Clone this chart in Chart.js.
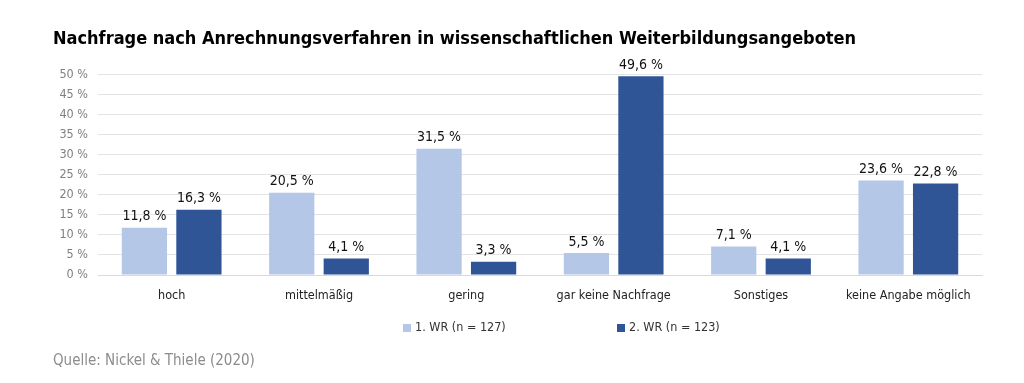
<!DOCTYPE html>
<html lang="de">
<head>
  <meta charset="UTF-8">
  <title>Nachfrage nach Anrechnungsverfahren</title>
  <script src="https://cdn.jsdelivr.net/npm/chart.js"></script>
  <style>
    html, body { margin: 0; padding: 0; background: #fff; }
    .wrap { width: 1024px; height: 383px; position: relative; }
  </style>
</head>
<body>
  <div class="wrap"><canvas id="barChart"></canvas></div>

  <script>
    const categories = ['hoch', 'mittelmäßig', 'gering', 'gar keine Nachfrage', 'Sonstiges', 'keine Angabe möglich'];
    const wr1Values = [11.8, 20.5, 31.5, 5.5, 7.1, 23.6];
    const wr2Values = [16.3, 4.1, 3.3, 49.6, 4.1, 22.8];
    const seriesNames = ['1. WR (n = 127)', '2. WR (n = 123)'];
    const yTicks = [0, 5, 10, 15, 20, 25, 30, 35, 40, 45, 50];

    const fontFamily = "'Liberation Sans Narrow', 'DejaVu Sans Condensed', 'Roboto Condensed', sans-serif";
    const fmt = v => v.toFixed(1).replace('.', ',') + ' %';

    // draws the value above each bar
    const valueLabels = {
      id: 'valueLabels',
      afterDatasetsDraw(chart) {
        const ctx = chart.ctx;
        ctx.save();
        ctx.font = '14px ' + fontFamily;
        ctx.fillStyle = '#111';
        ctx.textAlign = 'center';
        ctx.textBaseline = 'bottom';
        chart.data.datasets.forEach((ds, i) => {
          chart.getDatasetMeta(i).data.forEach((bar, j) => {
            ctx.fillText(fmt(ds.data[j]), bar.x, bar.y - 4);
          });
        });
        ctx.restore();
      }
    };

    // legend with wide spacing between the two items, under the x labels
    const wideLegend = {
      id: 'wideLegend',
      afterDraw(chart) {
        const ctx = chart.ctx;
        const y = chart.chartArea.bottom + 53;
        const starts = [403, 617];
        ctx.save();
        ctx.font = '12.5px ' + fontFamily;
        ctx.textBaseline = 'middle';
        ctx.textAlign = 'left';
        chart.data.datasets.forEach((ds, i) => {
          ctx.fillStyle = ds.backgroundColor;
          ctx.fillRect(starts[i], y - 4, 8, 8);
          ctx.fillStyle = '#333';
          ctx.fillText(ds.label, starts[i] + 12, y);
        });
        ctx.restore();
      }
    };

    new Chart(document.getElementById('barChart'), {
      type: 'bar',
      data: {
        labels: categories,
        datasets: [
          { label: seriesNames[0], data: wr1Values, backgroundColor: '#b4c7e7' },
          { label: seriesNames[1], data: wr2Values, backgroundColor: '#2f5597' }
        ]
      },
      options: {
        responsive: true,
        maintainAspectRatio: false,
        animation: false,
        datasets: { bar: { categoryPercentage: 0.74, barPercentage: 0.83 } },
        layout: { padding: { left: 53, right: 42, top: 29, bottom: 13 } },
        plugins: {
          title: {
            display: true,
            text: 'Nachfrage nach Anrechnungsverfahren in wissenschaftlichen Weiterbildungsangeboten',
            align: 'start',
            color: '#000',
            font: { family: fontFamily, size: 18, weight: 'bold' },
            padding: { top: 0, bottom: 24 }
          },
          subtitle: {
            display: true,
            position: 'bottom',
            text: 'Quelle: Nickel & Thiele (2020)',
            align: 'start',
            color: '#8c8c8c',
            font: { family: fontFamily, size: 15 },
            padding: { top: 44, bottom: 0 }
          },
          legend: { display: false },
          tooltip: { enabled: false }
        },
        scales: {
          x: {
            grid: { display: false },
            border: { color: '#d9d9d9' },
            ticks: { color: '#222', font: { family: fontFamily, size: 12.5 }, padding: 5 }
          },
          y: {
            min: 0,
            max: 50,
            afterBuildTicks: axis => { axis.ticks = yTicks.map(v => ({ value: v })); },
            afterFit: axis => { axis.width = 45; },
            grid: { color: '#e3e3e3', drawTicks: false },
            border: { display: false },
            ticks: {
              autoSkip: false,
              color: '#808080',
              font: { family: fontFamily, size: 12.5 },
              padding: 10,
              callback: v => v + ' %'
            }
          }
        }
      },
      plugins: [valueLabels, wideLegend]
    });
  </script>
</body>
</html>
